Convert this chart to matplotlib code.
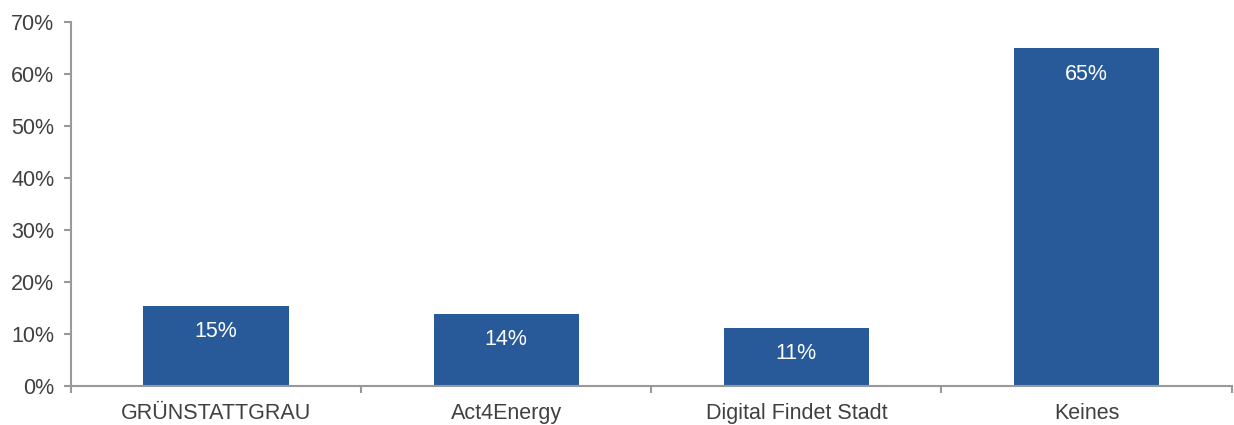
import matplotlib.pyplot as plt
import numpy as np
from matplotlib.ticker import FixedLocator, NullFormatter, PercentFormatter

plt.rcParams['font.family'] = ['Liberation Sans', 'DejaVu Sans']

# survey results (share of respondents)
categories = ['GRÜNSTATTGRAU', 'Act4Energy', 'Digital Findet Stadt', 'Keines']
values = [15.4, 13.9, 11.2, 64.9]
labels = ['15%', '14%', '11%', '65%']

bar_color = '#285A99'
axis_color = '#999999'
text_color = '#404040'

fig = plt.figure(figsize=(12.34, 4.25), dpi=100)
ax = fig.add_axes([0.0575, 0.0918, 0.9405, 0.8565])

x = np.arange(len(categories))
bars = ax.bar(x, values, width=0.5, color=bar_color, zorder=2)

for b, lab in zip(bars, labels):
    ax.annotate(lab, (b.get_x() + b.get_width() / 2, b.get_height()),
                xytext=(0, -26), textcoords='offset pixels',
                ha='center', va='center', color='white', fontsize=15.5)

ax.set_xlim(-0.5, len(categories) - 0.5)
ax.set_ylim(0, 70)
ax.set_yticks(np.arange(0, 71, 10))
ax.yaxis.set_major_formatter(PercentFormatter(decimals=0))

# tick marks between categories, labels centred on the bars
ax.xaxis.set_major_locator(FixedLocator(np.arange(-0.5, len(categories), 1.0)))
ax.xaxis.set_major_formatter(NullFormatter())
ax.xaxis.set_minor_locator(FixedLocator(x))
ax.set_xticklabels(categories, minor=True)
ax.tick_params(axis='x', which='minor', length=0, pad=12)
ax.tick_params(axis='x', which='major', length=5, width=1.5, color=axis_color)
ax.tick_params(axis='y', length=5, width=1.5, color=axis_color, pad=7)
ax.tick_params(axis='both', which='both', labelsize=15.5, labelcolor=text_color)

for side in ['top', 'right']:
    ax.spines[side].set_visible(False)
for side in ['left', 'bottom']:
    ax.spines[side].set_color(axis_color)
    ax.spines[side].set_linewidth(1.5)

fig.savefig('out.png', dpi=100)
